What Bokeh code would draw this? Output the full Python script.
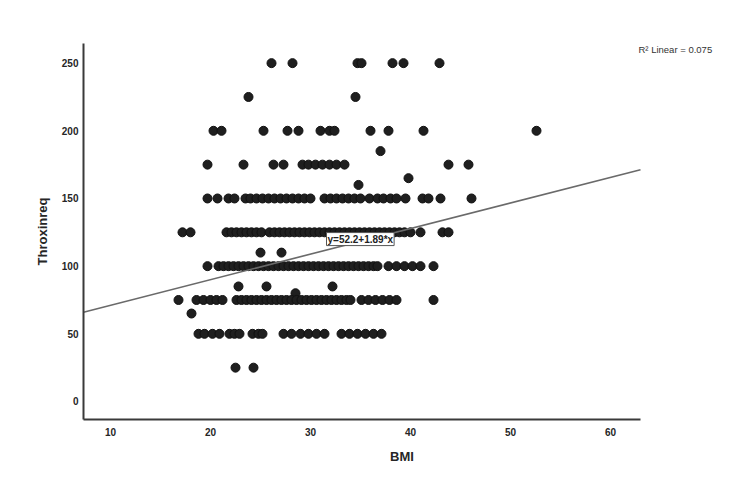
from bokeh.plotting import figure
from bokeh.models import Range1d, Label, FixedTicker
from bokeh.embed import file_html
from bokeh.resources import INLINE

# ---- data ----
bmi_250 = [26.1, 28.2, 34.7, 35.1, 38.2, 39.3, 42.9]
bmi_225 = [23.8, 34.5]
bmi_200 = [20.3, 21.1, 25.3, 27.7, 28.8, 31.0, 31.9, 32.4, 36.0, 37.8, 41.3, 52.6]
bmi_185 = [37.0]
bmi_175 = [19.7, 23.3, 26.3, 27.3, 29.2, 29.8, 30.5, 31.2, 31.9, 32.6, 33.4, 43.8, 45.8]
bmi_165 = [39.8]
bmi_160 = [34.8]
bmi_150 = [19.7, 20.7, 21.8, 22.4, 23.5, 24.0, 24.6, 25.2, 25.8, 26.4,
           27.0, 27.6, 28.2, 28.8, 29.4, 30.0, 31.4, 32.0, 32.6, 33.2,
           33.8, 34.4, 35.0, 35.9, 36.7, 37.3, 38.0, 38.6, 39.5, 41.2,
           41.8, 43.0, 46.1]
bmi_125 = [17.2, 18.0, 21.6, 22.1, 22.6, 23.1, 23.6, 24.1, 24.6, 25.1,
           25.9, 26.4, 26.9, 27.4, 27.9, 28.4, 28.9, 29.4, 29.9, 30.4,
           30.9, 31.4, 31.9, 32.4, 32.9, 33.4, 33.9, 34.4, 34.9, 35.4,
           35.9, 36.4, 36.9, 37.4, 37.9, 38.4, 38.9, 39.4, 40.0, 41.0,
           43.2, 43.8]
bmi_110 = [25.0, 27.1]
bmi_100 = [19.7, 20.8, 21.3, 21.8, 22.3, 22.8, 23.3, 23.8, 24.3, 24.8,
           25.3, 25.8, 26.3, 26.8, 27.3, 27.8, 28.3, 28.8, 29.3, 29.8,
           30.3, 30.8, 31.3, 31.8, 32.3, 32.8, 33.3, 33.8, 34.3, 34.8,
           35.3, 35.8, 36.3, 36.7, 37.8, 38.6, 39.4, 40.2, 41.0, 42.3]
bmi_85 = [22.8, 25.6, 32.2]
bmi_80 = [28.5]
bmi_75 = [16.8, 18.6, 19.3, 20.0, 20.6, 21.2, 22.6, 23.1, 23.6, 24.1,
          24.6, 25.1, 25.6, 26.1, 26.6, 27.1, 27.6, 28.1, 28.6, 29.1,
          29.6, 30.1, 30.6, 31.1, 31.6, 32.1, 32.6, 33.1, 33.6, 34.0,
          35.1, 35.8, 36.5, 37.2, 37.9, 38.6, 42.3]
bmi_65 = [18.1]
bmi_50 = [18.8, 19.4, 20.2, 20.9, 21.9, 22.4, 22.9, 24.2, 24.8, 25.2,
          27.3, 28.1, 29.0, 29.8, 30.6, 31.4, 33.1, 33.9, 34.7, 35.5,
          36.3, 37.1]
bmi_25 = [22.5, 24.3]

rows = {250: bmi_250, 225: bmi_225, 200: bmi_200, 185: bmi_185, 175: bmi_175,
        165: bmi_165, 160: bmi_160, 150: bmi_150, 125: bmi_125, 110: bmi_110,
        100: bmi_100, 85: bmi_85, 80: bmi_80, 75: bmi_75, 65: bmi_65,
        50: bmi_50, 25: bmi_25}

bmi = []
throxinreq = []
for val, xs in rows.items():
    bmi.extend(xs)
    throxinreq.extend([val] * len(xs))

intercept = 52.2
slope = 1.89
r2 = 0.075
x_ticks = [10, 20, 30, 40, 50, 60]
y_ticks = [0, 50, 100, 150, 200, 250]

x_lo, x_axis_end, x_hi = 7.3, 63.0, 71.0
y_lo, y_hi = -13.3, 264.5

p = figure(width=745, height=470, output_backend="svg", toolbar_location=None,
           x_range=Range1d(x_lo, x_hi), y_range=Range1d(y_lo, y_hi),
           min_border_left=83, min_border_right=25, min_border_top=43,
           min_border_bottom=51)
p.outline_line_color = None
p.xgrid.grid_line_color = None
p.ygrid.grid_line_color = None

p.scatter(bmi, throxinreq, size=9, fill_color="#1f1f1f", line_color="#111111")

reg_x = [x_lo, x_axis_end]
reg_y = [intercept + slope * v for v in reg_x]
p.line(reg_x, reg_y, line_color="#6a6a6a", line_width=1.6)

for ax in (p.xaxis[0], p.yaxis[0]):
    ax.axis_line_color = "#3a3a3a"
    ax.axis_line_width = 2
    ax.major_tick_line_color = None
    ax.minor_tick_line_color = None
    ax.major_tick_in = 0
    ax.major_tick_out = 0
    ax.minor_tick_in = 0
    ax.minor_tick_out = 0
    ax.major_label_text_font = "Liberation Sans"
    ax.major_label_text_font_style = "bold"
    ax.major_label_text_font_size = "10px"
    ax.major_label_text_color = "#262626"
    ax.axis_label_text_font = "Liberation Sans"
    ax.axis_label_text_font_style = "bold"
    ax.axis_label_text_font_size = "13px"
    ax.axis_label_text_color = "#262626"

p.xaxis.bounds = (x_lo, x_axis_end)
p.xaxis.ticker = FixedTicker(ticks=x_ticks)
p.yaxis.ticker = FixedTicker(ticks=y_ticks)
p.xaxis.axis_label = "BMI"
p.yaxis.axis_label = "Throxinreq"
p.xaxis.major_label_standoff = 8
p.xaxis.axis_label_standoff = 10
p.yaxis.major_label_standoff = 5
p.yaxis.axis_label_standoff = 9

eq = Label(x=31.6, y=120.0, text=f"y={intercept}+{slope}*x",
           text_font="Liberation Sans", text_font_size="10px",
           text_font_style="bold", text_color="#222222",
           text_baseline="middle", text_align="left",
           background_fill_color="white", border_line_color="#555555",
           border_line_width=1, padding=1)
p.add_layout(eq)

r2_label = Label(x=62.8, y=259.8, text=f"R\u00b2 Linear = {r2}",
                 text_font="Liberation Sans", text_font_size="9.5px",
                 text_color="#333333", text_baseline="middle", text_align="left")
p.add_layout(r2_label)

open("out.html", "w").write(file_html(p, INLINE))
